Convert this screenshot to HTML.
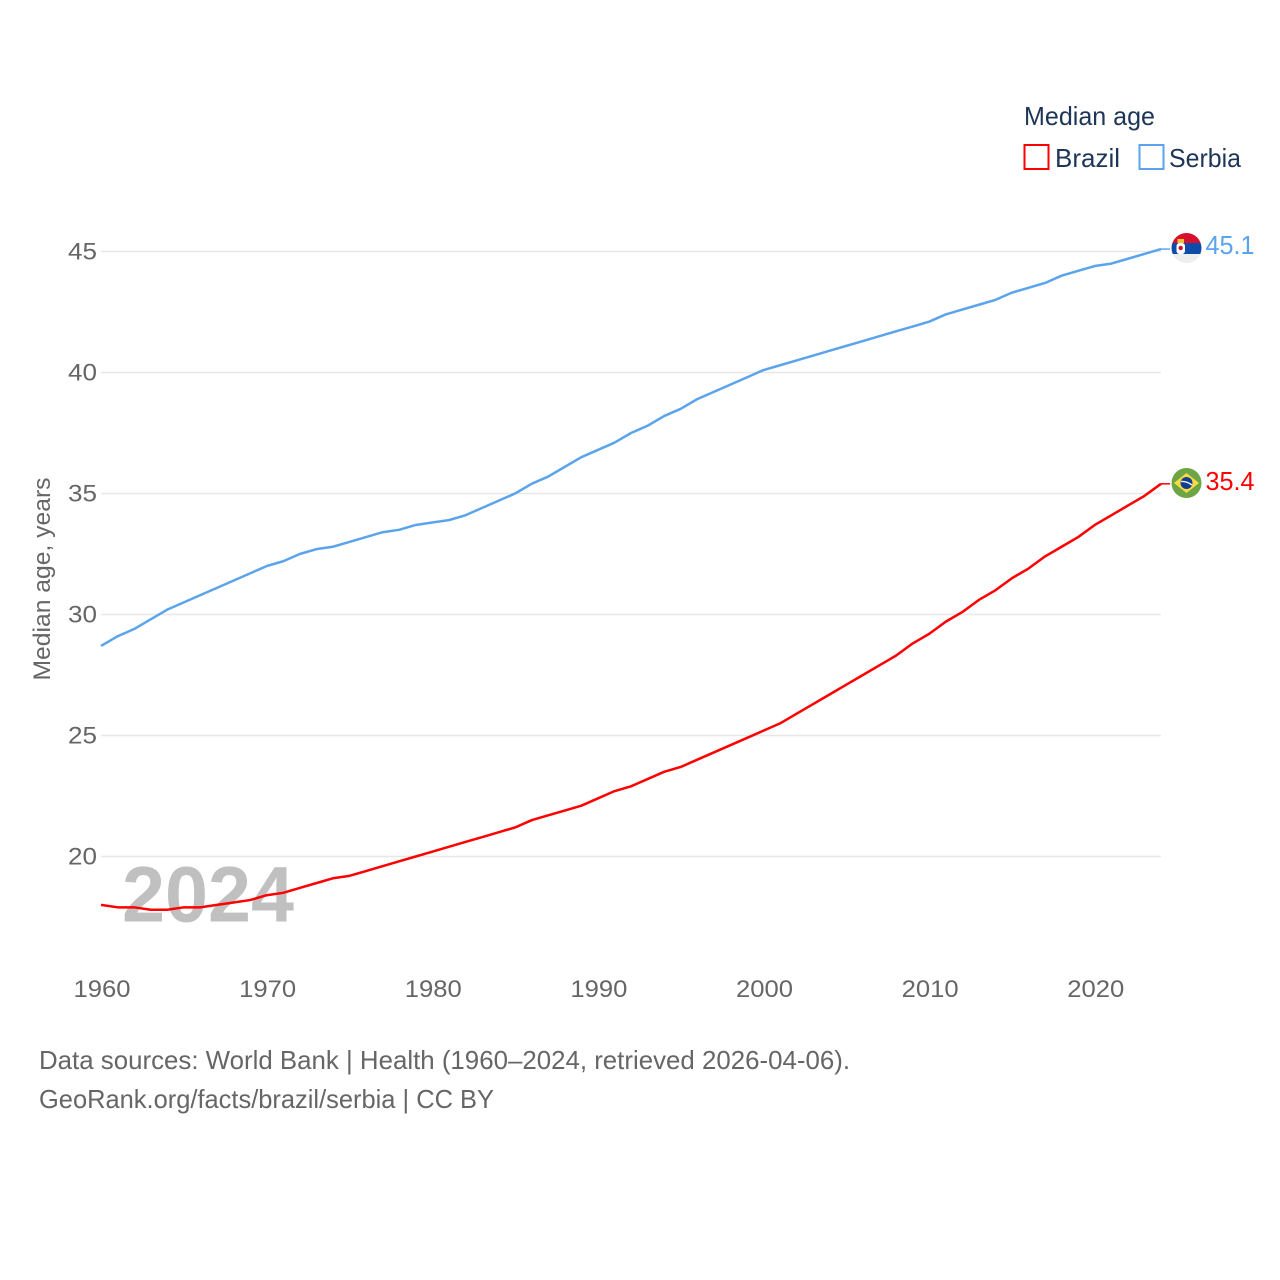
<!DOCTYPE html>
<html lang="en">
<head>
<meta charset="utf-8">
<title>Median age: Brazil and Serbia</title>
<style>
html,body{margin:0;padding:0;background:#fff;width:1280px;height:1280px;overflow:hidden}
svg{display:block;font-family:"Liberation Sans",sans-serif}
.tick{font-size:24px;fill:#666}
</style>
</head>
<body>
<svg id="chart" width="1280" height="1280" viewBox="0 0 1280 1280" xmlns="http://www.w3.org/2000/svg">
<rect width="1280" height="1280" fill="#fff"/>
<g id="grid"></g>
<text x="122" y="921.500" font-size="79" font-weight="700" fill="#c0c0c0" textLength="172" lengthAdjust="spacingAndGlyphs">2024</text>
<g id="yticks"></g>
<g id="xticks"></g>
<text transform="translate(50,579) rotate(-90)" text-anchor="middle" font-size="24" fill="#666" textLength="203" lengthAdjust="spacingAndGlyphs">Median age, years</text>
<g id="series"></g>

<g>
<text x="1024" y="125" font-size="26" fill="#1d3557" textLength="131" lengthAdjust="spacingAndGlyphs">Median age</text>
<g>
<rect x="1024.500" y="145" width="24" height="24" fill="#fff" stroke="#ff0000" stroke-width="2"/>
<text x="1055" y="167" font-size="26" fill="#1d3557" textLength="65" lengthAdjust="spacingAndGlyphs">Brazil</text>
</g>
<g>
<rect x="1139.500" y="145" width="24" height="24" fill="#fff" stroke="#5ba4ec" stroke-width="2"/>
<text x="1169" y="167" font-size="26" fill="#1d3557" textLength="72" lengthAdjust="spacingAndGlyphs">Serbia</text>
</g>
</g>

<g id="flags">
<defs>
<clipPath id="clip-serbia"><circle cx="1186.500" cy="248" r="15"/></clipPath>
<clipPath id="clip-brazil"><circle cx="1186.500" cy="483" r="15"/></clipPath>
</defs>
<g clip-path="url(#clip-serbia)">
<rect x="1171" y="233" width="31" height="10" fill="#d7102f"/>
<rect x="1171" y="243" width="31" height="11" fill="#0f4ba8"/>
<rect x="1171" y="254" width="31" height="10" fill="#eeeeee"/>
<rect x="1176.500" y="243" width="8.500" height="11" rx="3" fill="#ffffff"/>
<rect x="1177.500" y="239" width="6.500" height="4" fill="#f2c230"/>
<circle cx="1180.700" cy="248" r="2.200" fill="#c8102e"/>
</g>
<g clip-path="url(#clip-brazil)">
<rect x="1171" y="468" width="31" height="30" fill="#6da544"/>
<polygon points="1186.500,473 1199,483 1186.500,493 1174,483" fill="#ffda44"/>
<circle cx="1186.500" cy="483" r="6" fill="#0f3f91"/>
<path d="M1181 481.500 Q1186.500 481 1192 485" fill="none" stroke="#eeeeee" stroke-width="1.400"/>
</g>
</g>

<text x="1205.500" y="254" font-size="26" fill="#5ba4ec" textLength="49" lengthAdjust="spacingAndGlyphs">45.1</text>
<text x="1205.500" y="490" font-size="26" fill="#ff0000" textLength="49" lengthAdjust="spacingAndGlyphs">35.4</text>

<g>
<text x="39" y="1069" font-size="26" fill="#666" textLength="811" lengthAdjust="spacingAndGlyphs">Data sources: World Bank | Health (1960–2024, retrieved 2026-04-06).</text>
<text x="39" y="1108" font-size="26" fill="#666" textLength="455" lengthAdjust="spacingAndGlyphs">GeoRank.org/facts/brazil/serbia | CC BY</text>
</g>
</svg>

<script>
const years = [1960,1961,1962,1963,1964,1965,1966,1967,1968,1969,1970,1971,1972,1973,1974,1975,1976,1977,1978,1979,1980,1981,1982,1983,1984,1985,1986,1987,1988,1989,1990,1991,1992,1993,1994,1995,1996,1997,1998,1999,2000,2001,2002,2003,2004,2005,2006,2007,2008,2009,2010,2011,2012,2013,2014,2015,2016,2017,2018,2019,2020,2021,2022,2023,2024];
const serbiaValues = [28.7,29.1,29.4,29.8,30.2,30.5,30.8,31.1,31.4,31.7,32.0,32.2,32.5,32.7,32.8,33.0,33.2,33.4,33.5,33.7,33.8,33.9,34.1,34.4,34.7,35.0,35.4,35.7,36.1,36.5,36.8,37.1,37.5,37.8,38.2,38.5,38.9,39.2,39.5,39.8,40.1,40.3,40.5,40.7,40.9,41.1,41.3,41.5,41.7,41.9,42.1,42.4,42.6,42.8,43.0,43.3,43.5,43.7,44.0,44.2,44.4,44.5,44.7,44.9,45.1];
const brazilValues = [18.0,17.9,17.9,17.8,17.8,17.9,17.9,18.0,18.1,18.2,18.4,18.5,18.7,18.9,19.1,19.2,19.4,19.6,19.8,20.0,20.2,20.4,20.6,20.8,21.0,21.2,21.5,21.7,21.9,22.1,22.4,22.7,22.9,23.2,23.5,23.7,24.0,24.3,24.6,24.9,25.2,25.5,25.9,26.3,26.7,27.1,27.5,27.9,28.3,28.8,29.2,29.7,30.1,30.6,31.0,31.5,31.9,32.4,32.8,33.2,33.7,34.1,34.5,34.9,35.4];
const yTickValues = [20,25,30,35,40,45];
const xTickValues = [1960,1970,1980,1990,2000,2010,2020];

const NS = 'http://www.w3.org/2000/svg';
const xScale = function (year) { return 101 + (year - 1960) * (1060 / 64); };
const yScale = function (value) { return 856.5 - (value - 20) * 24.2; };

const grid = document.getElementById('grid');
const yticks = document.getElementById('yticks');
const xticks = document.getElementById('xticks');
const seriesGroup = document.getElementById('series');

yTickValues.forEach(function (v) {
  const line = document.createElementNS(NS, 'line');
  line.setAttribute('x1', xScale(1960));
  line.setAttribute('x2', xScale(2024));
  line.setAttribute('y1', yScale(v));
  line.setAttribute('y2', yScale(v));
  line.setAttribute('stroke', '#e8e8e8');
  line.setAttribute('stroke-width', '1.5');
  
  
  grid.appendChild(line);

  const label = document.createElementNS(NS, 'text');
  label.setAttribute('x', 97);
  label.setAttribute('y', yScale(v) + 8);
  label.setAttribute('text-anchor', 'end');
  label.setAttribute('class', 'tick');
  label.setAttribute('textLength', '29');
  label.setAttribute('lengthAdjust', 'spacingAndGlyphs');
  
  
  label.textContent = v;
  yticks.appendChild(label);
});

xTickValues.forEach(function (year) {
  const label = document.createElementNS(NS, 'text');
  label.setAttribute('x', xScale(year) + 1);
  label.setAttribute('y', 997);
  label.setAttribute('text-anchor', 'middle');
  label.setAttribute('class', 'tick');
  label.setAttribute('textLength', '57');
  label.setAttribute('lengthAdjust', 'spacingAndGlyphs');
  
  
  label.textContent = year;
  xticks.appendChild(label);
});

function drawSeries(values, color, name) {
  const points = values.map(function (v, i) {
    return xScale(years[i]).toFixed(2) + ',' + yScale(v).toFixed(2);
  }).join(' ');
  const line = document.createElementNS(NS, 'polyline');
  line.setAttribute('points', points);
  line.setAttribute('fill', 'none');
  line.setAttribute('stroke', color);
  line.setAttribute('stroke-width', '2.5');
  line.setAttribute('stroke-linejoin', 'round');
  
  
  seriesGroup.appendChild(line);

  const last = values[values.length - 1];
  const connector = document.createElementNS(NS, 'line');
  connector.setAttribute('x1', xScale(years[years.length - 1]));
  connector.setAttribute('x2', 1170);
  connector.setAttribute('y1', yScale(last));
  connector.setAttribute('y2', yScale(last));
  connector.setAttribute('stroke', color);
  connector.setAttribute('stroke-width', '1.5');
  
  
  seriesGroup.appendChild(connector);
}

drawSeries(serbiaValues, '#5ba4ec', 'serbia');
drawSeries(brazilValues, '#ff0000', 'brazil');
</script>
</body>
</html>
